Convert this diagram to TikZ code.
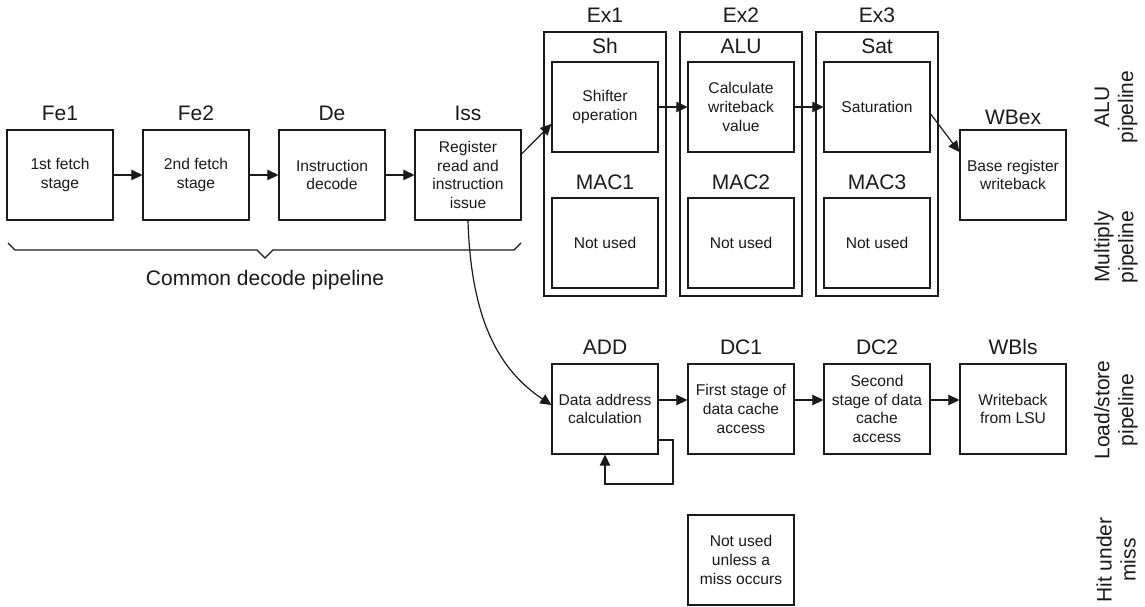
\documentclass[tikz,border=0pt]{standalone}
\usepackage{fontspec}
\setmainfont{Liberation Sans}
\usetikzlibrary{arrows.meta,calc}
\definecolor{ink}{HTML}{1A1A1A}
\begin{document}
\begin{tikzpicture}[x=1pt,y=-1pt,
  stage/.style={draw=ink, line width=1.3pt, minimum width=106pt, minimum height=90pt,
    inner sep=0pt, align=center, font=\fontsize{15.6}{18.7}\selectfont, text=ink},
  unit/.style={draw=ink, line width=1.3pt, minimum width=122pt, minimum height=264pt, inner sep=0pt},
  tag/.style={font=\fontsize{21}{24}\selectfont, text=ink, inner sep=0pt},
  side/.style={tag, rotate=90, align=center},
  link/.style={draw=ink, line width=1.2pt, -{Triangle[length=11pt,width=10.5pt]}},
]
\useasboundingbox (0,0) rectangle (1145,607);

% common decode stages
\node[stage] (fe1) at (60,175) {1st fetch\\stage};
\node[stage] (fe2) at (196,175) {2nd fetch\\stage};
\node[stage] (de)  at (332,175) {Instruction\\decode};
\node[stage] (iss) at (468,175) {Register\\read and\\instruction\\issue};
\node[tag] (fe1l) at (60,113) {Fe1};
\node[tag] (fe2l) at (196,113) {Fe2};
\node[tag] (del)  at (332,113) {De};
\node[tag] (issl) at (468,113) {Iss};

% brace under the decode stages
\draw[ink, line width=1.2pt] (8,243) -- (15,250) -- (257,250) -- (265,258) -- (273,250) -- (514,250) -- (521,243);
\node[tag] (common) at (265,280) {Common decode pipeline};

% execute units
\node[unit] (ex1) at (605,164) {};
\node[unit] (ex2) at (741,164) {};
\node[unit] (ex3) at (877,164) {};
\node[tag] (ex1l) at (605,15) {Ex1};
\node[tag] (ex2l) at (741,15) {Ex2};
\node[tag] (ex3l) at (877,15) {Ex3};

\node[stage] (sh)  at (605,107) {Shifter\\operation};
\node[stage] (alu) at (741,107) {Calculate\\writeback\\value};
\node[stage] (sat) at (877,107) {Saturation};
\node[tag] (shl)  at (605,46) {Sh};
\node[tag] (alul) at (741,46) {ALU};
\node[tag] (satl) at (877,46) {Sat};

\node[stage] (mac1) at (605,243) {Not used};
\node[stage] (mac2) at (741,243) {Not used};
\node[stage] (mac3) at (877,243) {Not used};
\node[tag] (mac1l) at (605,182) {MAC1};
\node[tag] (mac2l) at (741,182) {MAC2};
\node[tag] (mac3l) at (877,182) {MAC3};

\node[stage] (wbex) at (1013,175) {Base register\\writeback};
\node[tag] (wbexl) at (1013,117) {WBex};

% load/store stages
\node[stage] (add) at (605,409) {Data address\\calculation};
\node[stage] (dc1) at (741,409) {First stage of\\data cache\\access};
\node[stage] (dc2) at (877,409) {Second\\stage of data\\cache\\access};
\node[stage] (wbls) at (1013,409) {Writeback\\from LSU};
\node[tag] (addl)  at (605,347) {ADD};
\node[tag] (dc1l)  at (741,347) {DC1};
\node[tag] (dc2l)  at (877,347) {DC2};
\node[tag] (wblsl) at (1013,347) {WBls};

\node[stage] (miss) at (741,560) {Not used\\unless a\\miss occurs};

% pipeline names
\node[side] (alup) at (1116,107) {ALU\\pipeline};
\node[side] (mulp) at (1116,247) {Multiply\\pipeline};
\node[side] (lsp)  at (1116,410) {Load/store\\pipeline};
\node[side] (hump) at (1116,560) {Hit under\\miss};

% connections
\draw[link] (fe1) -- (fe2);
\draw[link] (fe2) -- (de);
\draw[link] (de) -- (iss);
\draw[link] ($(iss.east)+(0,-21)$) -- ($(sh.west)+(0,17)$);
\draw[link] (sh) -- (alu);
\draw[link] (alu) -- (sat);
\draw[link] ($(sat.east)+(0,7)$) -- ($(wbex.west)+(0,-23)$);
\draw[link] (iss.south) .. controls +(3,100) and +(-52,-35) .. ($(add.west)+(0,-4)$);
\draw[link] ($(add.east)+(0,-9)$) -- ($(dc1.west)+(0,-9)$);
\draw[link] ($(dc1.east)+(0,-9)$) -- ($(dc2.west)+(0,-9)$);
\draw[link] ($(dc2.east)+(0,-9)$) -- ($(wbls.west)+(0,-9)$);
\coordinate (loopc) at (673,484);
\draw[link] ($(add.east)+(0,31)$) -| (loopc) -| (add.south);
\end{tikzpicture}
\end{document}
